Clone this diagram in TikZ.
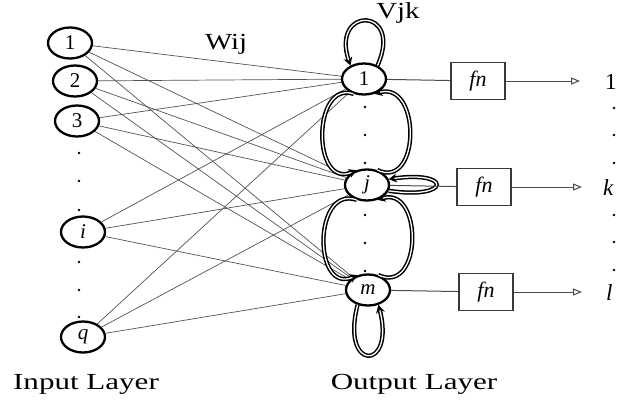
\documentclass[tikz,border=0pt]{standalone}
\usepackage{fontspec}
\setmainfont{Liberation Serif}
\usetikzlibrary{arrows.meta,shapes.geometric}
\begin{document}
\begin{tikzpicture}[x=1pt,y=-1pt,
  neuron/.style={draw, ellipse, line width=2.3pt, minimum width=44pt, minimum height=31pt, inner sep=0pt, font=\fontsize{21}{21}\selectfont},
  wire/.style={draw=gray!65!black, line width=0.7pt},
  lp/.style={draw=black, double=white, double distance=1.3pt, line width=1.5pt, -{Stealth[length=8pt,width=9pt]}},
  fnbox/.style={draw=gray!45!black, line width=1.1pt, minimum width=54pt, minimum height=37pt, inner sep=0pt, font=\fontsize{22}{22}\selectfont\itshape},
  outarr/.style={draw=gray!60!black, line width=1pt, -{Triangle[open,length=9pt,width=7pt]}},
  dotm/.style={circle, fill=black, inner sep=0pt, minimum size=2.6pt},
  lbl/.style={font=\fontsize{23}{23}\selectfont}
]
\useasboundingbox (0,0) rectangle (619,408);
% input nodes
\node[neuron] (i1) at (70,43) {1};
\node[neuron] (i2) at (75,81) {2};
\node[neuron] (i3) at (77,121) {3};
\node[neuron] (ii) at (83,232) {\itshape i};
\node[neuron] (iq) at (83,337) {\itshape q};
% output nodes
\node[neuron] (o1) at (364,79) {1};
\node[neuron] (oj) at (367,185) {\itshape j};
\node[neuron] (om) at (368,290) {\itshape m};
% input dots
\foreach \y [count=\k] in {153,181,210,262,290,317} \node[dotm] (id\k) at (79,\y) {};
% output dots
\foreach \y [count=\k] in {107,135,163,215,243,271} \node[dotm] (od\k) at (365,\y) {};
% right dots
\foreach \y [count=\k] in {108,135,163,215,242,270} \node[dotm] (rd\k) at (614,\y) {};
% wires
\foreach \a in {i1,i2,i3,ii,iq}
  \foreach \b in {o1,oj,om}
    \draw[wire] (\a) -- (\b);
% loops between output nodes
\draw[lp] (o1.235) .. controls (312,80) and (312,190) .. (oj.125);
\draw[lp] (oj.55) .. controls (421,190) and (421,80) .. (o1.-55);
\draw[lp] (oj.235) .. controls (313,185) and (313,295) .. (om.125);
\draw[lp] (om.55) .. controls (423,295) and (423,185) .. (oj.-55);
% self loops
\draw[lp] (o1.45) .. controls (404,6) and (330,6) .. (o1.135);
\draw[lp] (oj.-15) .. controls (452,200) and (452,170) .. (oj.15);
\draw[lp] (om.-125) .. controls (340,372) and (396,372) .. (om.-55);
% fn boxes
\node[fnbox] (f1) at (478,81) {fn};
\node[fnbox] (f2) at (484,187) {fn};
\node[fnbox] (f3) at (486,292) {fn};
\coordinate (e1) at (580,81);
\coordinate (e2) at (582,187);
\coordinate (e3) at (582,292);
\draw[wire, line width=1pt, draw=gray!60!black] (o1) -- (f1);
\draw[wire, line width=1pt, draw=gray!60!black] (oj) -- (f2);
\draw[wire, line width=1pt, draw=gray!60!black] (om) -- (f3);
\draw[outarr] (f1) -- (e1);
\draw[outarr] (f2) -- (e2);
\draw[outarr] (f3) -- (e3);
% output labels
\node[lbl, anchor=west, inner sep=1pt] (y1) at (604,82) {1};
\node[lbl, anchor=west, inner sep=1pt] (yk) at (602,188) {\itshape k};
\node[lbl, anchor=west, inner sep=1pt] (yl) at (605,293) {\itshape l};
% text labels
\node[lbl] (wij) at (226,44) {\scalebox{1.25}[1]{Wij}};
\node[lbl] (vjk) at (398,13) {\scalebox{1.25}[1]{Vjk}};
\node[lbl] (inl) at (86,384) {\scalebox{1.35}[1]{Input Layer}};
\node[lbl] (outl) at (414,384) {\scalebox{1.35}[1]{Output Layer}};
\end{tikzpicture}
\end{document}
